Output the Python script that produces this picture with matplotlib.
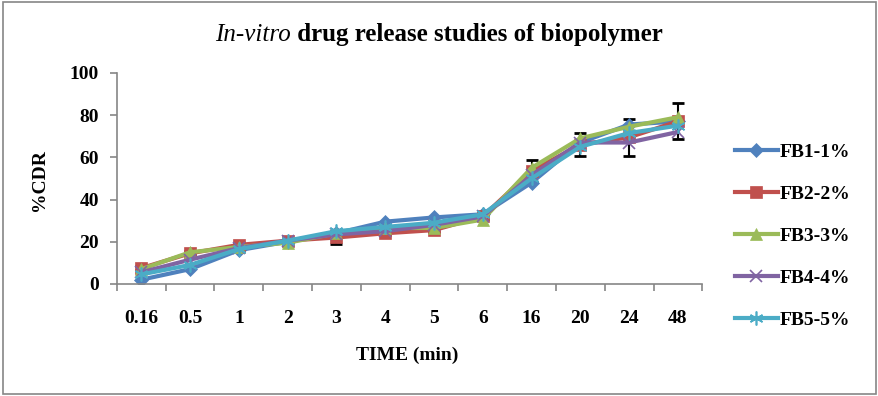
import matplotlib
matplotlib.use("Agg")
import matplotlib.pyplot as plt
from matplotlib.patches import Rectangle

# data
times = ["0.16", "0.5", "1", "2", "3", "4", "5", "6", "16", "20", "24", "48"]
fb1 = [2, 7, 16, 20, 24, 29.5, 31.5, 33, 48, 67, 75.5, 77]
fb2 = [7.5, 14.5, 18.5, 20.5, 22, 24, 25.5, 32, 53.5, 66, 69.5, 77]
fb3 = [7, 15, 17.5, 19.5, 24, 26.5, 26.5, 30.5, 55, 69, 74.5, 79]
fb4 = [5.5, 11.5, 17, 20.5, 23.5, 25, 28, 32, 51.5, 67, 67, 72]
fb5 = [4.5, 9, 16.5, 20.5, 25, 27, 29, 33, 50, 65, 71.5, 75]
fb2_err = [0.8, 1.0, 1.0, 1.0, 3.0, 1.0, 1.0, 1.0, 5.0, 5.5, 8.7, 8.5]

series = [
    ("FB1-1%", fb1, "#4F81BD", "D", 7),
    ("FB2-2%", fb2, "#C0504D", "s", 8),
    ("FB3-3%", fb3, "#9BBB59", "^", 8),
    ("FB4-4%", fb4, "#8064A2", "x", 9),
    ("FB5-5%", fb5, "#4BACC6", (6, 2, 0), 10),  # asterisk
]

serif = "Liberation Serif"
grey = "#868686"
fs = 14

fig = plt.figure(figsize=(8.79, 3.96), dpi=100)
fig.patches.append(Rectangle((0.003, 0.005), 0.994, 0.99, transform=fig.transFigure,
                             fill=False, edgecolor=grey, linewidth=1.2))
ax = fig.add_axes([0.133, 0.283, 0.666, 0.533])

x = list(range(len(times)))
ax.errorbar(x, fb2, yerr=fb2_err, fmt="none", ecolor="black", elinewidth=1.5,
            capsize=4, capthick=2, zorder=1)
for label, vals, color, marker, ms in series:
    thin = marker == "x" or isinstance(marker, tuple)
    ax.plot(x, vals, color=color, linewidth=3, marker=marker, markersize=ms,
            markeredgecolor=color, markeredgewidth=1.2 if thin else 0.5,
            label=label, zorder=2)

ax.set_xlim(-0.5, len(times) - 0.5)
ax.set_ylim(0, 100)
ax.set_yticks(range(0, 101, 20))
ax.set_xticks([i - 0.5 for i in range(len(times) + 1)])
ax.set_xticklabels([])
ax.set_xticks(x, minor=True)
ax.set_xticklabels(times, minor=True, fontfamily=serif, fontweight="bold", fontsize=fs)
ax.tick_params(axis="x", which="minor", length=0, pad=19)
ax.tick_params(axis="x", which="major", length=5, color=grey, width=1.2)
ax.tick_params(axis="y", length=5, color=grey, width=1.2, pad=8)
for t in ax.get_yticklabels():
    t.set_fontfamily(serif)
    t.set_fontweight("bold")
    t.set_fontsize(fs)

for side in ("top", "right"):
    ax.spines[side].set_visible(False)
for side in ("left", "bottom"):
    ax.spines[side].set_color(grey)
    ax.spines[side].set_linewidth(1.2)

ax.set_ylabel("%CDR", fontfamily=serif, fontweight="bold", fontsize=fs, va="center")
ax.yaxis.set_label_coords(-0.132, 0.49)
ax.set_xlabel("TIME (min)", fontfamily=serif, fontweight="bold", fontsize=fs, va="center")
ax.xaxis.set_label_coords(0.496, -0.336)

ax.legend(loc="center left", bbox_to_anchor=(1.056, 0.227), frameon=False,
          prop={"family": serif, "weight": "bold", "size": fs},
          borderpad=0, borderaxespad=0,
          handlelength=2.2, handletextpad=0.1, labelspacing=1.25)

# title: italic "In-vitro" followed by bold text, centred as one line
fig.canvas.draw()
renderer = fig.canvas.get_renderer()
t1 = fig.text(0, 0.912, "In-vitro", fontfamily=serif, fontstyle="italic", fontsize=18, va="center")
t2 = fig.text(0, 0.912, " drug release studies of biopolymer", fontfamily=serif,
              fontweight="bold", fontsize=18, va="center")
w1 = t1.get_window_extent(renderer).width
w2 = t2.get_window_extent(renderer).width
figw = fig.get_figwidth() * fig.dpi
start = 439 - (w1 + w2) / 2
t1.set_x(start / figw)
t2.set_x((start + w1) / figw)

fig.savefig("out.png", dpi=100)
